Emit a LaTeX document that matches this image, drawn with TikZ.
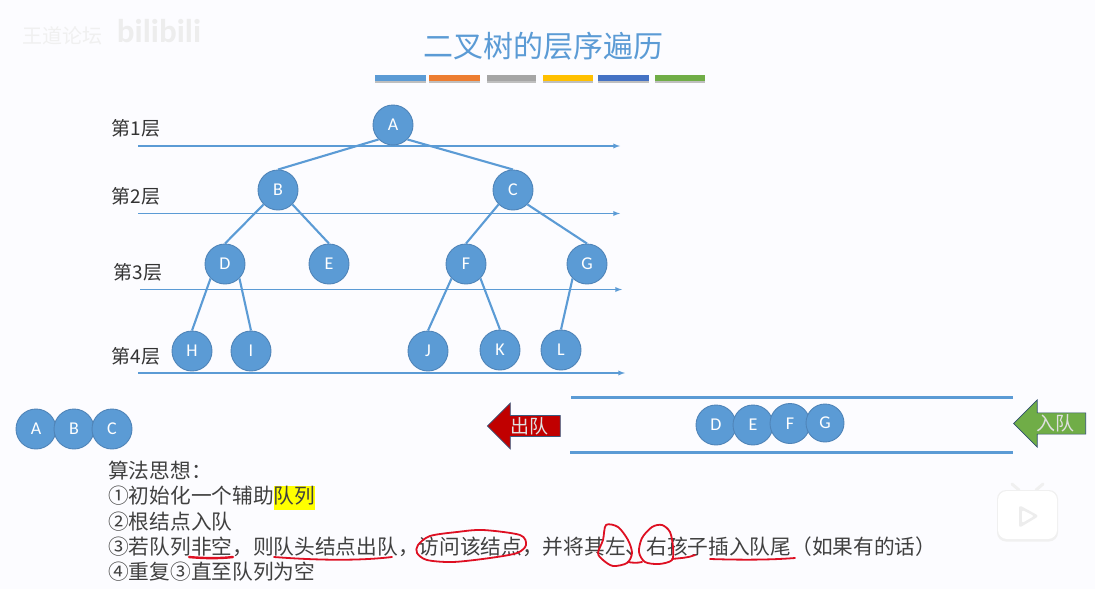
\documentclass[tikz,border=0pt]{standalone}
\usepackage{fontspec}
\setmainfont{Noto Sans CJK SC}
\newfontfamily\letterfont{Carlito}
\usetikzlibrary{shapes.arrows}
\definecolor{slideblue}{HTML}{5B9BD5}
\definecolor{rimblue}{HTML}{4F84B8}
\definecolor{inkred}{HTML}{DE0F22}
\definecolor{marker}{HTML}{FFFF00}
\definecolor{outred}{HTML}{C00000}
\definecolor{ingreen}{HTML}{70AD47}
\setlength{\fboxsep}{0pt}
\tikzset{
  treenode/.style={circle,fill=slideblue,draw=rimblue,line width=0.9pt,minimum size=40pt,inner sep=0pt,
    text=white,font=\letterfont\fontsize{18}{18}\selectfont},
  edgeline/.style={slideblue,line width=2.1pt},
  levelline/.style={slideblue,line width=1.3pt,-latex},
  levellabel/.style={text=black!80,font=\fontsize{19}{22}\selectfont,inner sep=0pt},
  textline/.style={anchor=base west,inner sep=0pt,text=black!75,font=\fontsize{20.7}{24}\selectfont},
  queueline/.style={slideblue,line width=3pt},
  redpen/.style={inkred,line width=1.8pt,line cap=round,line join=round},
  queuearrow/.style={single arrow,shape border rotate=180,single arrow head extend=11pt,single arrow tip angle=90,
    inner sep=0pt,text=white!88!black,font=\fontsize{19}{22}\selectfont}
}
\begin{document}
\begin{tikzpicture}[x=1pt,y=-1pt]
    \useasboundingbox (0,0) rectangle (1095,589);
    \fill[white!99!blue] (0,0) rectangle (1095,589);

    % Watermarks
    \node[text=black!6,font=\fontsize{20}{20}\selectfont,inner sep=0pt] (mark1) at (63,36) {王道论坛};
    \node[text=black!7,font=\letterfont\bfseries\fontsize{33}{33}\selectfont,inner sep=0pt] (mark2) at (159,31) {bilibili};
    \draw[black!6,line width=3pt,line cap=round] (1012,484) -- (1019,490) (1043,484) -- (1036,490);
    \fill[black!6,rounded corners=9pt] (997,490) rectangle (1058,541.5);
    \fill[white,rounded corners=9pt] (998,491) rectangle (1057,539);
    \fill[black!7,rounded corners=3pt] (1019,505) -- (1039,516) -- (1019,528) -- cycle;
    \fill[white,rounded corners=2pt] (1022,510) -- (1034,516) -- (1022,523) -- cycle;

    % Title
    \node[text=slideblue,font=\fontsize{30}{32}\selectfont,inner sep=0pt] (title) at (543,46) {二叉树的层序遍历};
    \foreach \xa/\xb/\barcol in {375/426/5B9BD5,429/480/ED7D31,487/536/A5A5A5,543/593/FFC000,598/649/4472C4,655/705/70AD47}{
        \definecolor{barcol}{HTML}{\barcol}
        \fill[black!25] (\xa,77) rectangle (\xb,82.5);
        \fill[barcol] (\xa,75) rectangle (\xb,81);
    }

    % Level lines
    \coordinate (lev1a) at (138,146);
    \coordinate (lev1b) at (620,146);
    \coordinate (lev2a) at (138,213.5);
    \coordinate (lev2b) at (620,213.5);
    \coordinate (lev3a) at (140,289.5);
    \coordinate (lev3b) at (622,289.5);
    \coordinate (lev4a) at (138,373);
    \coordinate (lev4b) at (625,373);
    \draw[levelline] (lev1a) -- (lev1b);
    \draw[levelline] (lev2a) -- (lev2b);
    \draw[levelline] (lev3a) -- (lev3b);
    \draw[levelline] (lev4a) -- (lev4b);
    \node[levellabel] (lab1) at (136,128) {第1层};
    \node[levellabel] (lab2) at (136,196) {第2层};
    \node[levellabel] (lab3) at (138,272) {第3层};
    \node[levellabel] (lab4) at (136,356) {第4层};

    % Tree
    \node[treenode] (A) at (393,125) {A};
    \node[treenode] (B) at (278,190) {B};
    \node[treenode] (C) at (513,190) {C};
    \node[treenode] (D) at (225,264) {D};
    \node[treenode] (E) at (329,264) {E};
    \node[treenode] (F) at (466,264) {F};
    \node[treenode] (G) at (587,264) {G};
    \node[treenode] (H) at (192,351) {H};
    \node[treenode] (I) at (251,351) {I};
    \node[treenode] (J) at (428,351) {J};
    \node[treenode] (K) at (500,350) {K};
    \node[treenode] (L) at (561,350) {L};
    \draw[edgeline] (A.225) -- (B.north);
    \draw[edgeline] (A.-45) -- (C.north);
    \draw[edgeline] (B.225) -- (D.north);
    \draw[edgeline] (B.-45) -- (E.north);
    \draw[edgeline] (C.225) -- (F.north);
    \draw[edgeline] (C.-45) -- (G.north);
    \draw[edgeline] (D.225) -- (H.north);
    \draw[edgeline] (D.-45) -- (I.north);
    \draw[edgeline] (F.225) -- (J.north);
    \draw[edgeline] (F.-45) -- (K.north);
    \draw[edgeline] (G.225) -- (L.north);

    % Visited nodes
    \node[treenode] (outA) at (36,429) {A};
    \node[treenode] (outB) at (74,429) {B};
    \node[treenode] (outC) at (112,429) {C};

    % Queue
    \coordinate (qtopa) at (571,397);
    \coordinate (qtopb) at (1013,397);
    \coordinate (qbota) at (570,452);
    \coordinate (qbotb) at (1013,452);
    \draw[queueline] (qtopa) -- (qtopb);
    \draw[queueline] (qbota) -- (qbotb);
    \node[treenode] (qD) at (716,425) {D};
    \node[treenode] (qE) at (753,425) {E};
    \node[treenode] (qF) at (790,423.5) {F};
    \node[treenode,minimum size=38pt] (qG) at (825,423) {G};
    \node[queuearrow,fill=outred,draw=rimblue!70!black,line width=0.7pt,minimum width=46pt,minimum height=73pt] (dequeue) at (529,426) {出队};
    \node[queuearrow,fill=ingreen,draw=rimblue!60!black,line width=0.7pt,minimum width=47pt,minimum height=72pt] (enqueue) at (1055,423.5) {入队};

    % Algorithm text
    \node[textline] (algo0) at (108,478) {算法思想：};
    \node[textline] (algo1) at (108,503) {①初始化一个辅助\colorbox{marker}{\strut 队列}};
    \node[textline] (algo2) at (108,529) {②根结点入队};
    \node[textline] (algo3) at (108,554) {③若队列非空，则队头结点出队，访问该结点，并将其左、右孩子插入队尾（如果有的话）};
    \node[textline] (algo4) at (108,579) {④重复③直至队列为空};

    % Red pen marks
    \draw[redpen,line width=2.4pt] (189,557) .. controls (205,558.5) and (220,558.5) .. (233,557);
    \draw[redpen] (274,557) .. controls (300,559) and (350,562) .. (392,557);
    \draw[redpen] plot[smooth cycle] coordinates {(483,530) (457,532) (430,536) (418,545) (417,553) (427,560) (453,562) (490,558) (517,553) (526,545) (520,535)};
    \draw[redpen] plot[smooth cycle] coordinates {(606,525) (618,527) (628,540) (632,553) (627,563) (613,566) (603,560) (598,553) (603,540)};
    \draw[redpen] plot[smooth cycle] coordinates {(662,525) (670,532) (673,547) (672,560) (659,564) (645,562) (639,552) (642,538) (652,527)};
    \draw[redpen] (628,562) .. controls (633,563) and (638,563) .. (642,562);
    \draw[redpen] (672,559) .. controls (680,558) and (688,558) .. (695,555);
    \draw[redpen] (710,559) .. controls (740,560) and (770,560) .. (795,558);
\end{tikzpicture}
\end{document}
